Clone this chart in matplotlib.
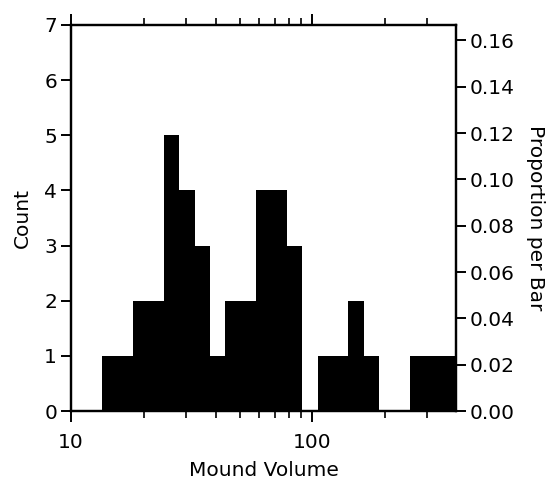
import numpy as np
import matplotlib.pyplot as plt
from matplotlib.ticker import LogLocator, NullFormatter, FixedLocator, FixedFormatter

# counts per log-spaced bin of mound volume
counts = [1, 1, 2, 2, 5, 4, 3, 1, 2, 2, 4, 4, 3, 0, 1, 1, 2, 1, 0, 0, 1, 1, 1]
vol_min, vol_max = 13.5, 395.0
count_ticks = [0, 1, 2, 3, 4, 5, 6, 7]
prop_ticks = [0.00, 0.02, 0.04, 0.06, 0.08, 0.10, 0.12, 0.14, 0.16]

plt.rcParams['font.family'] = ['DejaVu Sans']
plt.rcParams['font.size'] = 14.5

edges = np.logspace(np.log10(vol_min), np.log10(vol_max), len(counts) + 1)
n = sum(counts)

fig = plt.figure(figsize=(5.47, 4.86), dpi=100)
ax = fig.add_axes([0.1298, 0.1543, 0.8336 - 0.1298, 0.9486 - 0.1543])

ax.bar(edges[:-1], counts, width=np.diff(edges), align='edge',
       color='black', linewidth=0)
ax.set_xscale('log')
ax.set_xlim(10, vol_max)
ax.set_ylim(0, 7)

ax.xaxis.set_major_locator(FixedLocator([10, 100]))
ax.xaxis.set_major_formatter(FixedFormatter(['10', '100']))
ax.xaxis.set_minor_locator(LogLocator(base=10, subs=np.arange(2, 10)))
ax.xaxis.set_minor_formatter(NullFormatter())
ax.set_yticks(count_ticks)

for s in ax.spines.values():
    s.set_linewidth(1.6)

ax.tick_params(axis='x', which='major', direction='out', length=8, width=1.4,
               top=True, pad=8)
ax.tick_params(axis='x', which='minor', direction='out', length=5, width=1.2,
               top=True)
ax.tick_params(axis='y', direction='out', length=7, width=1.4, pad=3)

ax.set_xlabel('Mound Volume', labelpad=6)
ax.set_ylabel('Count', labelpad=9)

# right axis: proportion of all mounds in each bar
ax2 = ax.twinx()
ax2.set_ylim(0, 7 / n)
ax2.set_yticks(prop_ticks)
ax2.set_yticklabels(['%.2f' % p for p in prop_ticks])
ax2.tick_params(axis='y', direction='out', length=7, width=1.4, pad=3)
ax2.set_ylabel('Proportion per Bar', rotation=270, labelpad=22)
for s in ax2.spines.values():
    s.set_linewidth(1.6)

fig.savefig('out.png', dpi=100)
